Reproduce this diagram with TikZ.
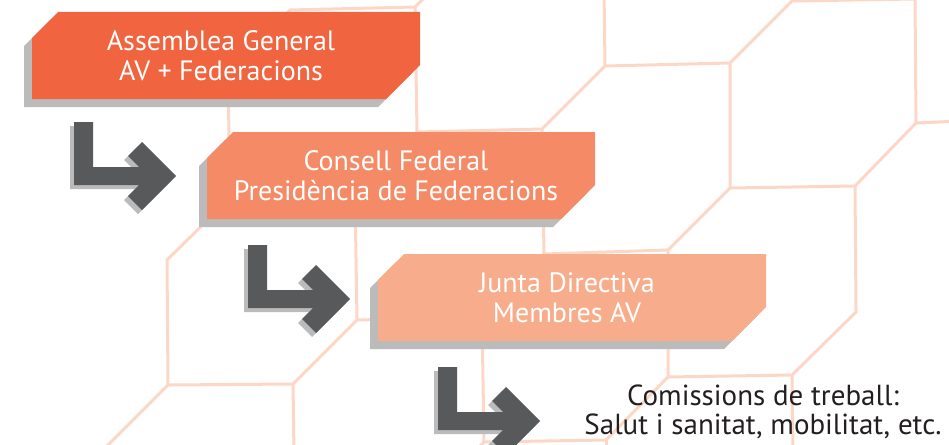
\documentclass[tikz,border=0pt]{standalone}
\usepackage{fontspec}
\setmainfont{PT Sans}

\definecolor{boxA}{HTML}{F0643F}
\definecolor{boxB}{HTML}{F48A66}
\definecolor{boxC}{HTML}{F7AD8C}
\definecolor{hexline}{HTML}{FDD7C6}
\definecolor{arrowgray}{HTML}{58595B}
\definecolor{shadowgray}{HTML}{BBBBBB}
\definecolor{textdark}{HTML}{231F20}

\newcommand{\boxshape}{(0,26) -- (26,0) -- (388,0) -- (388,53) -- (354,87) -- (0,87) -- cycle}
\newcommand{\arrowshape}{(0,0) -- (19,0) -- (19,45) -- (65,45) -- (54,34) -- (68,20) -- (102,54) -- (68,88) -- (54,74) -- (65,63) -- (0,63) -- cycle}

\tikzset{
  hex/.style={draw=hexline, line width=3pt},
  boxtext/.style={text=white, align=center, font=\fontsize{28}{30}\selectfont},
  pics/orgbox/.style={code={
    \fill[shadowgray, shift={(-8,8)}] \boxshape;
    \fill[#1] \boxshape;
  }},
  pics/larrow/.style={code={
    \fill[shadowgray, shift={(-4,4)}] \arrowshape;
    \fill[arrowgray] \arrowshape;
  }}
}

\begin{document}
\begin{tikzpicture}[x=1pt,y=-1pt]
\clip (0,0) rectangle (949,444);

% background grid
\draw[hex] (228,73) -- (290,10) -- (415,7) -- (417,132) -- (542,129) -- (605,66) -- (730,63) -- (792,1) -- (915,-1) -- (916,123) -- (960,121);
\draw[hex] (415,7) -- (430,-8);
\draw[hex] (605,66) -- (604,-10);
\draw[hex] (730,63) -- (730,188) -- (855,186) -- (916,123);
\draw[hex] (855,186) -- (856,312) -- (792,375) -- (668,377) -- (668,250) -- (730,188);
\draw[hex] (668,250) -- (544,254) -- (542,129);
\draw[hex] (544,254) -- (482,317) -- (484,442) -- (606,440) -- (668,377);
\draw[hex] (792,375) -- (793,455);
\draw[hex] (606,440) -- (606,455);
\draw[hex] (484,442) -- (470,456);
\draw[hex] (228,73) -- (230,198) -- (167,260) -- (168,385) -- (293,384) -- (357,320) -- (355,196) -- (230,198);
\draw[hex] (355,196) -- (417,132);
\draw[hex] (357,320) -- (482,317);
\draw[hex] (168,385) -- (105,448);
\draw[hex] (293,384) -- (294,455);

% boxes
\pic at (32,12) {orgbox=boxA};
\pic at (207,132) {orgbox=boxB};
\pic at (378,254) {orgbox=boxC};

\node[boxtext] (assemblea) at (221,56) {Assemblea General\\AV + Federacions};
\node[boxtext] (consell) at (396,176) {Consell Federal\\Presidència de Federacions};
\node[boxtext] (junta) at (567,298) {Junta Directiva\\Membres AV};

% arrows
\pic at (74,122) {larrow};
\pic at (248,245) {larrow};
\pic at (438,367) {larrow};

\node[text=textdark, align=center, font=\fontsize{29}{29}\selectfont] (comissions) at (763,412) {Comissions de treball:\\Salut i sanitat, mobilitat, etc.};

\end{tikzpicture}
\end{document}
